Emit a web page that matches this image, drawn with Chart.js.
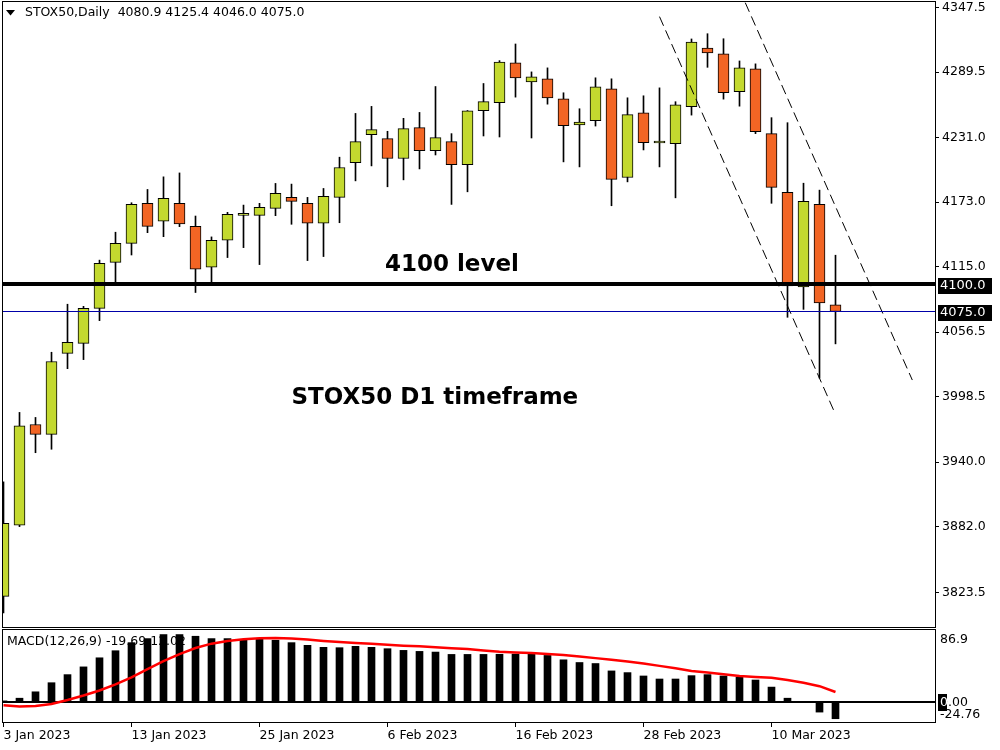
<!DOCTYPE html>
<html>
<head>
<meta charset="utf-8">
<title>STOX50 Daily</title>
<script src="https://cdn.jsdelivr.net/npm/chart.js@4.4.0/dist/chart.umd.min.js"></script>
<style>
html,body{margin:0;padding:0;background:#fff}
#wrap{position:relative;width:1000px;height:750px;overflow:hidden;background:#fff}
#main{position:absolute;left:0;top:0}
#macd{position:absolute;left:0;top:629px}
</style>
</head>
<body>
<div id="wrap">
<canvas id="main" width="1000" height="628"></canvas>
<canvas id="macd" width="1000" height="121"></canvas>
</div>
<script>
var symbol = 'STOX50,Daily'
var dates = ['3 Jan 2023','4 Jan 2023','5 Jan 2023','6 Jan 2023','9 Jan 2023','10 Jan 2023','11 Jan 2023','12 Jan 2023','13 Jan 2023',
  '16 Jan 2023','17 Jan 2023','18 Jan 2023','19 Jan 2023','20 Jan 2023','23 Jan 2023','24 Jan 2023','25 Jan 2023','26 Jan 2023',
  '27 Jan 2023','30 Jan 2023','31 Jan 2023','1 Feb 2023','2 Feb 2023','3 Feb 2023','6 Feb 2023','7 Feb 2023','8 Feb 2023',
  '9 Feb 2023','10 Feb 2023','13 Feb 2023','14 Feb 2023','15 Feb 2023','16 Feb 2023','17 Feb 2023','20 Feb 2023','21 Feb 2023',
  '22 Feb 2023','23 Feb 2023','24 Feb 2023','27 Feb 2023','28 Feb 2023','1 Mar 2023','2 Mar 2023','3 Mar 2023','6 Mar 2023',
  '7 Mar 2023','8 Mar 2023','9 Mar 2023','10 Mar 2023','13 Mar 2023','14 Mar 2023','15 Mar 2023','16 Mar 2023']

var open = [3819.8,3883.5,3973.8,3965.0,4037.5,4046.5,4077.8,4119.0,4136.0,4171.9,4155.8,4171.9,4151.3,4114.6,4138.8,4161.1,
  4161.1,4167.4,4177.2,4171.9,4154.0,4177.2,4208.4,4233.4,4229.8,4212.0,4239.7,4219.1,4227.2,4206.6,4254.8,4262.0,4297.7,
  4280.7,4283.4,4265.5,4242.0,4245.9,4274.5,4195.0,4253.0,4225.9,4225.4,4258.4,4311.0,4305.7,4271.8,4292.3,4234.3,4181.7,
  4096.9,4170.9,4080.9]
var high = [3922.4,3984.6,3980.1,4038.5,4081.5,4079.6,4121.0,4146.0,4172.4,4184.3,4195.6,4199.1,4160.5,4141.8,4163.8,4170.3,
  4171.9,4189.7,4189.1,4177.2,4185.2,4213.2,4252.4,4258.7,4236.4,4248.0,4253.3,4276.5,4234.3,4255.0,4279.2,4299.7,4314.6,
  4289.6,4293.2,4270.9,4256.6,4284.3,4283.4,4266.4,4268.2,4275.3,4262.9,4319.1,4323.8,4319.3,4299.4,4296.8,4248.6,4244.1,
  4189.9,4183.7,4125.4]
var low = [3805.0,3882.3,3948.5,3951.6,4023.8,4031.9,4066.8,4100.5,4125.6,4145.6,4142.0,4151.0,4092.0,4101.0,4123.3,4132.2,
  4117.0,4160.8,4153.1,4120.6,4124.2,4154.5,4192.0,4205.4,4186.7,4192.9,4202.7,4215.2,4170.9,4182.2,4232.2,4231.3,4267.0,
  4230.4,4260.7,4209.0,4204.5,4241.1,4169.7,4191.1,4219.7,4204.5,4176.8,4250.9,4293.7,4265.2,4258.9,4234.3,4171.9,4069.8,
  4076.9,4015.3,4046.0]
var close = [3885.3,3972.6,3964.9,4030.2,4047.3,4077.8,4118.2,4136.0,4170.9,4151.3,4176.3,4153.4,4112.8,4138.8,4162.0,4161.1,
  4168.2,4180.8,4173.6,4154.0,4178.1,4204.0,4227.2,4237.9,4212.0,4238.8,4219.1,4230.7,4206.6,4254.8,4262.9,4298.5,4284.3,
  4285.1,4266.4,4241.4,4244.6,4276.3,4193.3,4251.3,4226.3,4225.9,4260.2,4316.4,4306.6,4270.9,4293.2,4236.1,4186.1,4097.8,
  4173.6,4082.6,4075.0]

var macdMain = [1.5,4.7,12.3,23.1,32.7,41.9,52.7,61.1,70.7,75.5,80.3,80.3,78.3,75.5,75.5,73.5,75.1,73.5,70.7,67.5,65.1,64.7,
  66.3,65.1,63.5,61.5,60.3,59.5,56.7,56.7,56.7,56.9,57.1,57.1,55.5,50.3,47.1,45.9,37.1,35.1,31.1,27.5,27.5,31.5,32.7,31.1,
  29.5,26.3,17.9,4.7,0.6,-11.8,-19.69]
var macdSignal = [-3.7,-5.3,-4.5,-2.2,2.5,7.9,13.9,21.1,29.5,39.1,48.7,57.1,64.3,69.5,72.7,74.7,75.9,76.3,75.5,74.3,72.7,71.5,
  70.3,69.5,68.3,67.1,66.3,65.1,63.9,63.1,61.5,59.9,59.1,58.3,57.1,55.9,54.3,52.3,50.3,48.3,45.9,43.1,40.3,37.1,35.1,33.1,
  31.1,29.9,29.1,26.3,23.1,19.0,12.02]

var priceTicks = [4347.5,4289.5,4231.0,4173.0,4115.0,4056.5,3998.5,3940.0,3882.0,3823.5]
var dateTicks = [0,8,16,24,32,40,48]
var macdLabels = [86.9,0,-24.76]
var levelPrices = [4100.0,4075.0]
// channel lines, [candle index, price] at each end
var channelLower = [[41.0,4339.1],[51.97,3983.8]]
var channelUpper = [[46.36,4351.6],[56.8,4013.6]]
var noteTexts = ['4100 level','STOX50 D1 timeframe']
var noteAnchors = [[23.84,4111.5],[18.0,3992.2]]

Chart.defaults.font.family = '"DejaVu Sans"'
Chart.defaults.color = '#000'

var GREEN = '#c3d92f', ORANGE = '#f26524'
var xMin = -0.09375, xMax = 58.21875
var levelStyle = [{color:'#000000',width:4},{color:'#0000a8',width:1}]

function pts(line){
  return line.map(function(p){return {x:p[0],y:p[1]}})
}
function frame(chart){
  var ctx = chart.ctx, ca = chart.chartArea
  ctx.save()
  ctx.strokeStyle = '#000'
  ctx.lineWidth = 1
  ctx.strokeRect(ca.left+0.5, ca.top+0.5, ca.right-ca.left, ca.bottom-ca.top-1)
  ctx.restore()
}
function noPad(s){
  s.paddingTop = 0; s.paddingBottom = 0; s.paddingLeft = 0; s.paddingRight = 0
}

var wicks = [], bodies = [], bodyColors = []
for(var i=0;i<dates.length;i++){
  wicks.push({x:i,y:[low[i],high[i]]})
  bodies.push({x:i,y:[open[i],close[i]]})
  bodyColors.push(close[i]>=open[i]?GREEN:ORANGE)
}

var mainOverlay = {
  id:'mainOverlay',
  afterDatasetsDraw:function(chart){
    var ctx = chart.ctx, ca = chart.chartArea, xs = chart.scales.x, ys = chart.scales.y
    ctx.save()
    levelPrices.forEach(function(p,k){
      var y = Math.round(ys.getPixelForValue(p))
      ctx.fillStyle = levelStyle[k].color
      ctx.fillRect(ca.left, y-Math.floor(levelStyle[k].width/2), ca.right-ca.left, levelStyle[k].width)
    })
    ctx.fillStyle = '#000'
    ctx.font = 'bold 23px "DejaVu Sans"'
    ctx.textAlign = 'left'
    ctx.textBaseline = 'alphabetic'
    noteTexts.forEach(function(t,k){
      ctx.fillText(t, xs.getPixelForValue(noteAnchors[k][0]), ys.getPixelForValue(noteAnchors[k][1]))
    })
    ctx.restore()
  },
  afterDraw:function(chart){
    var ctx = chart.ctx, ca = chart.chartArea, ys = chart.scales.y
    var n = dates.length-1
    frame(chart)
    ctx.save()
    // header
    ctx.fillStyle = '#000'
    ctx.beginPath()
    ctx.moveTo(6,10);ctx.lineTo(15,10);ctx.lineTo(10.5,15.5);ctx.closePath()
    ctx.fill()
    ctx.font = '12.5px "DejaVu Sans"'
    ctx.textBaseline = 'middle'
    ctx.fillText(symbol+'  '+[open[n],high[n],low[n],close[n]].map(function(v){return v.toFixed(1)}).join(' '), 25, 13)
    // price boxes of the levels
    ctx.font = '13px "DejaVu Sans"'
    levelPrices.forEach(function(p){
      var y = Math.round(ys.getPixelForValue(p))
      ctx.fillStyle = '#000'
      ctx.fillRect(ca.right+3, y-6, 54, 16)
      ctx.fillStyle = '#fff'
      ctx.fillText(p.toFixed(1), ca.right+5, y+2)
    })
    ctx.restore()
  }
}

var mainChart = new Chart(document.getElementById('main'), {
  type:'bar',
  data:{datasets:[
    {data:wicks, backgroundColor:'#000', borderWidth:0, barThickness:1, maxBarThickness:1, grouped:false, order:3},
    {data:bodies, backgroundColor:bodyColors, borderColor:'#000', borderWidth:1, borderSkipped:false,
      barThickness:11, maxBarThickness:11, minBarLength:2, grouped:false, order:2},
    {type:'line', data:pts(channelLower), borderColor:'#000', borderWidth:1, borderDash:[10,5], pointRadius:0, order:1},
    {type:'line', data:pts(channelUpper), borderColor:'#000', borderWidth:1, borderDash:[10,5], pointRadius:0, order:1}
  ]},
  options:{
    responsive:false, animation:false, devicePixelRatio:1,
    layout:{padding:{left:2,top:1,right:0,bottom:0}},
    plugins:{legend:{display:false},tooltip:{enabled:false}},
    scales:{
      x:{type:'linear', min:xMin, max:xMax, offset:false, display:false},
      y:{position:'right', min:3791.5, max:4353.1,
        afterBuildTicks:function(s){ s.ticks = priceTicks.map(function(v){return {value:v}}) },
        afterFit:function(s){ s.width = 65; noPad(s) },
        ticks:{autoSkip:false, padding:3, font:{size:12.5}, callback:function(v){return v.toFixed(1)}},
        grid:{drawOnChartArea:false, color:'#000', tickLength:4},
        border:{display:false}}
    }
  },
  plugins:[mainOverlay]
})

var macdOverlay = {
  id:'macdOverlay',
  beforeDatasetsDraw:function(chart){
    var ctx = chart.ctx, ca = chart.chartArea, ys = chart.scales.y
    var n = macdMain.length-1
    ctx.save()
    ctx.fillStyle = '#000'
    ctx.font = '12.5px "DejaVu Sans"'
    ctx.textBaseline = 'middle'
    ctx.fillText('MACD(12,26,9) '+macdMain[n].toFixed(2)+' '+macdSignal[n].toFixed(2), 7, 13)
    var z = Math.round(ys.getPixelForValue(0))
    ctx.fillRect(ca.left, z-1, ca.right-ca.left, 2)
    ctx.restore()
  },
  afterDraw:function(chart){
    var ctx = chart.ctx, ca = chart.chartArea, ys = chart.scales.y
    frame(chart)
    ctx.save()
    ctx.font = '12.5px "DejaVu Sans"'
    ctx.textBaseline = 'middle'
    ctx.fillStyle = '#000'
    var z = ys.getPixelForValue(0)
    ctx.fillRect(ca.right+3, Math.round(z)-8, 9, 17)
    var ys0 = [ca.top+11, z+1, ca.bottom-8]
    macdLabels.forEach(function(v,k){
      var t = k==0 ? v.toFixed(1) : v.toFixed(2)
      ctx.fillStyle = '#000'
      ctx.fillText(t, ca.right+5, ys0[k])
      if(k==1){
        ctx.fillStyle = '#fff'
        ctx.fillText(t.charAt(0), ca.right+5, ys0[k])
      }
    })
    ctx.restore()
  }
}

var macdChart = new Chart(document.getElementById('macd'), {
  type:'bar',
  data:{datasets:[
    {data:macdMain.map(function(v,i){return {x:i,y:v}}), backgroundColor:'#000', borderWidth:0,
      barThickness:7, maxBarThickness:7, order:2},
    {type:'line', data:macdSignal.map(function(v,i){return {x:i,y:v}}), borderColor:'#ff0000', borderWidth:2.5,
      pointRadius:0, tension:0, order:1}
  ]},
  options:{
    responsive:false, animation:false, devicePixelRatio:1,
    layout:{padding:{left:2,top:0,right:0,bottom:0}},
    plugins:{legend:{display:false},tooltip:{enabled:false}},
    scales:{
      x:{type:'linear', min:xMin, max:xMax, offset:false,
        afterBuildTicks:function(s){ s.ticks = dateTicks.map(function(v){return {value:v}}) },
        afterFit:function(s){ s.height = 27; noPad(s) },
        ticks:{autoSkip:false, maxRotation:0, align:'start', padding:1, font:{size:12.5},
          callback:function(v){return dates[v]}},
        grid:{drawOnChartArea:false, offset:false, color:'#000', tickLength:4},
        border:{display:false}},
      y:{position:'right', min:-24.76, max:86.9,
        afterFit:function(s){ s.width = 65; noPad(s) },
        ticks:{display:false}, grid:{display:false}, border:{display:false}}
    }
  },
  plugins:[macdOverlay]
})
</script>
</body>
</html>
